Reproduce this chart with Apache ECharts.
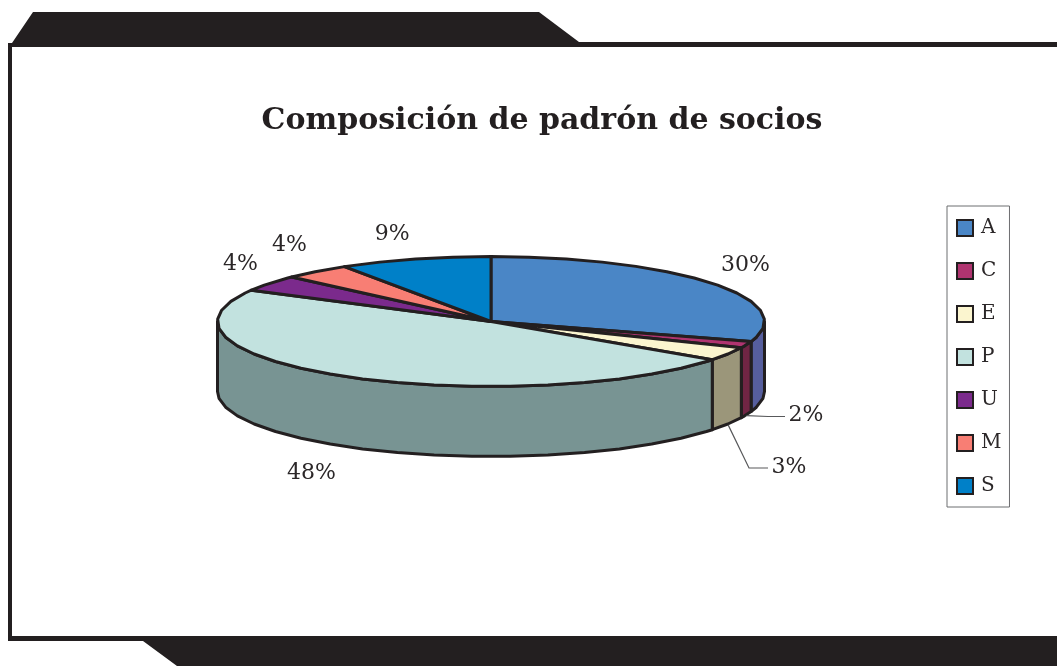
<!DOCTYPE html>
<html>
<head>
<meta charset="utf-8">
<style>html,body{margin:0;padding:0;background:#fff}#c{width:1057px;height:666px}</style>
<script src="https://cdn.jsdelivr.net/npm/echarts@6/dist/echarts.min.js"></script>
</head>
<body>
<div id="c"></div>
<script>
var categories = ['A', 'C', 'E', 'P', 'U', 'M', 'S'];
var values = [30, 1.6, 3.4, 48, 4, 4, 9];
var titleText = 'Composición de padrón de socios';

var topColors = ['#4a86c6', '#b03470', '#fbf5cf', '#c2e2df', '#7b2a8c', '#f87e74', '#0080c8'];
var sideColors = ['#565e9d', '#702544', '#9b967a', '#789493', '#4a1a55', '#95504a', '#004d78'];
var INK = '#231f20';
var SERIF = '"DejaVu Serif", serif';
var geo = { cx: 491, cy: 321.5, rx: 273.5, ry: 65, depth: 70, step: 8 };
// label placement relative to the pie's outer ellipse
var labelShift = { A: [0, 1], P: [-11, -1], U: [4, 0], M: [-1, -1], S: [-11, 6] };
var leaders = {
  C: { elbow: [768, 416.5], end: [785, 416.5], label: [806, 415.5] },
  E: { elbow: [749, 468], end: [768, 468], label: [789, 467] }
};

var total = values.reduce(function (a, b) { return a + b; }, 0);
function pt(t, drop) {
  return [geo.cx + geo.rx * Math.sin(t), geo.cy - geo.ry * Math.cos(t) + (drop || 0)];
}
function arc(a, b) {
  // vertices on a shared angular grid, so the rim has the faceted look of the original
  var st = geo.step * Math.PI / 180, out = [a];
  var k = Math.floor(a / st) + 1;
  while (k * st < b - 1e-6) { out.push(k * st); k++; }
  out.push(b);
  return out;
}

var series = [];
var cum = 0;
categories.forEach(function (name, i) {
  var a0 = cum / total * 2 * Math.PI;
  cum += values[i];
  var a1 = cum / total * 2 * Math.PI;
  series.push({
    type: 'custom',
    name: name,
    coordinateSystem: 'none',
    silent: true,
    data: [{ name: name, value: values[i] }],
    itemStyle: { color: topColors[i], borderColor: INK, borderWidth: 2 },
    renderItem: function () {
      var kids = [];
      var line = { stroke: INK, lineWidth: 3, lineJoin: 'round' };
      // visible side wall: the part of the slice facing the viewer
      var s0 = Math.max(a0, Math.PI / 2), s1 = Math.min(a1, 3 * Math.PI / 2);
      if (s1 > s0) {
        var sa = arc(s0, s1), pts = [];
        sa.forEach(function (t) { pts.push(pt(t)); });
        sa.slice().reverse().forEach(function (t) { pts.push(pt(t, geo.depth)); });
        kids.push({ type: 'polygon', shape: { points: pts },
          style: Object.assign({ fill: sideColors[i] }, line) });
      }
      // top face
      var tp = [[geo.cx, geo.cy]];
      arc(a0, a1).forEach(function (t) { tp.push(pt(t)); });
      kids.push({ type: 'polygon', shape: { points: tp },
        style: Object.assign({ fill: topColors[i] }, line) });
      // percent label
      var mid = (a0 + a1) / 2;
      var lx, ly;
      if (leaders[name]) {
        var L = leaders[name];
        lx = L.label[0]; ly = L.label[1];
        kids.push({ type: 'polyline', shape: { points: [pt(mid, geo.depth + 1), L.elbow, L.end] },
          style: { fill: 'none', stroke: '#58595b', lineWidth: 1.2 } });
      } else {
        lx = geo.cx + geo.rx * 1.15 * Math.sin(mid) + labelShift[name][0];
        ly = geo.cy - geo.ry * 1.5 * Math.cos(mid) + (Math.cos(mid) < 0 ? geo.depth : 0) + labelShift[name][1];
      }
      kids.push({ type: 'text', style: { text: Math.round(values[i]) + '%', x: lx, y: ly,
        font: '22px ' + SERIF, fill: '#2b2728', textAlign: 'center', textVerticalAlign: 'middle' } });
      return { type: 'group', children: kids };
    }
  });
});

var frame = [
  { type: 'polygon', silent: true, shape: { points: [[8, 43], [12, 43], [33, 12], [539, 12], [579, 42], [1057, 42], [1057, 47], [12, 47], [12, 636], [1057, 636], [1057, 666], [177, 666], [143, 641], [8, 641]] },
    style: { fill: INK } }
];

var chart = echarts.init(document.getElementById('c'), null, { renderer: 'canvas' });
chart.setOption({
  animation: false,
  backgroundColor: '#fff',
  title: {
    text: titleText, left: 537, top: 101, textAlign: 'center',
    textStyle: { fontFamily: SERIF, fontWeight: 'bold', fontSize: 30, color: INK }
  },
  legend: {
    orient: 'vertical', left: 947, top: 206,
    padding: [12, 8, 11, 9], itemGap: 23, itemWidth: 16, itemHeight: 16,
    borderColor: '#6d6e71', borderWidth: 1, selectedMode: false,
    textStyle: { fontFamily: SERIF, fontSize: 20, color: '#2b2728', padding: [0, 0, 0, 3] },
    data: categories.map(function (n, i) {
      return { name: n, icon: 'rect', itemStyle: { color: topColors[i], borderColor: INK, borderWidth: 2 } };
    })
  },
  graphic: frame,
  series: series
});
</script>
</body>
</html>
